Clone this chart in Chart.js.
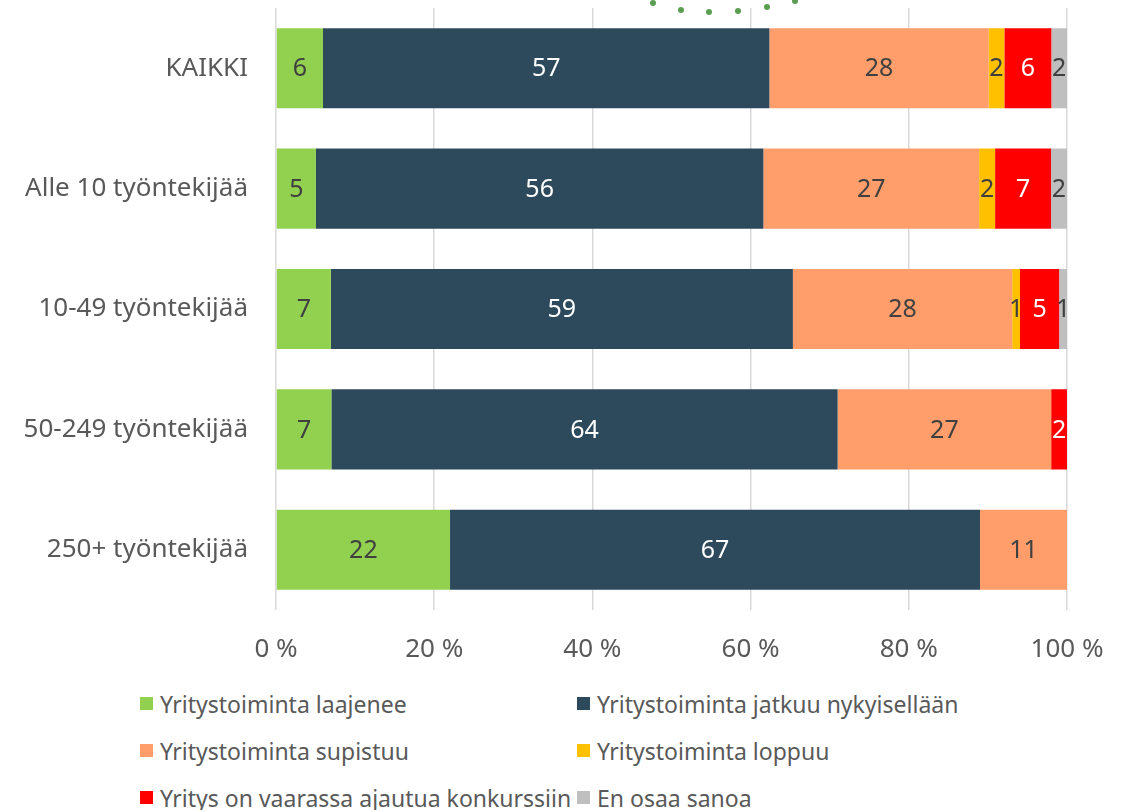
<!DOCTYPE html>
<html>
<head>
<meta charset="utf-8">
<script src="https://cdn.jsdelivr.net/npm/chart.js@4"></script>
<style>
  html, body { margin: 0; padding: 0; background: #fff; }
  body { width: 1132px; height: 810px; position: relative; overflow: hidden; font-family: "Noto Sans", sans-serif; }
  #chart-wrap { position: absolute; left: 0; top: 0; width: 1132px; height: 665px; }
  #legend { position: absolute; left: 140px; top: 680px; width: 980px; }
  .legend-row { display: flex; height: 47px; align-items: center; }
  .legend-item { display: flex; align-items: center; font-size: 23px; color: #595959; white-space: nowrap; }
  .legend-item:first-child { width: 437px; }
  .legend-box { width: 13px; height: 13px; margin-right: 7px; flex: none; }
  #deco { position: absolute; left: 0; top: 0; }
</style>
</head>
<body>
<div id="chart-wrap"><canvas id="business-chart"></canvas></div>
<svg id="deco" width="1132" height="20">
  <g fill="#5b9e52">
    <circle cx="653" cy="3" r="3"/><circle cx="681" cy="10" r="3"/><circle cx="709" cy="12" r="3"/>
    <circle cx="738" cy="11" r="3"/><circle cx="767" cy="7" r="3"/><circle cx="795" cy="1" r="3"/>
  </g>
</svg>
<div id="legend"></div>
<script>
const categories = ['KAIKKI', 'Alle 10 työntekijää', '10-49 työntekijää', '50-249 työntekijää', '250+ työntekijää'];

// shares in percent as printed on the bars
const laajenee   = [6, 5, 7, 7, 22];
const jatkuu     = [57, 56, 59, 64, 67];
const supistuu   = [28, 27, 28, 27, 11];
const loppuu     = [2, 2, 1, 0, 0];
const konkurssi  = [6, 7, 5, 2, 0];
const eiOsaa     = [2, 2, 1, 0, 0];

const xTicks = [0, 20, 40, 60, 80, 100];

const series = [
    { label: 'Yritystoiminta laajenee', values: laajenee, color: '#92d050', text: '#404040' },
    { label: 'Yritystoiminta jatkuu nykyisellään', values: jatkuu, color: '#2d4a5c', text: '#ffffff' },
    { label: 'Yritystoiminta supistuu', values: supistuu, color: '#ff9e6b', text: '#404040' },
    { label: 'Yritystoiminta loppuu', values: loppuu, color: '#ffc000', text: '#404040' },
    { label: 'Yritys on vaarassa ajautua konkurssiin', values: konkurssi, color: '#ff0000', text: '#ffffff' },
    { label: 'En osaa sanoa', values: eiOsaa, color: '#bfbfbf', text: '#404040' }
];

// 100 % stacked: each row is scaled to its own total
const rowTotals = categories.map((c, i) => series.reduce((s, d) => s + d.values[i], 0));

const FONT = '"Noto Sans", sans-serif';

const barLabels = {
    id: 'barLabels',
    afterDatasetsDraw(chart) {
        const ctx = chart.ctx;
        ctx.save();
        ctx.font = '25px ' + FONT;
        ctx.textAlign = 'center';
        ctx.textBaseline = 'middle';
        chart.data.datasets.forEach((ds, di) => {
            const meta = chart.getDatasetMeta(di);
            meta.data.forEach((bar, i) => {
                const v = series[di].values[i];
                if (!v) return;
                const p = bar.getCenterPoint();
                ctx.fillStyle = series[di].text;
                ctx.fillText(String(v), p.x, p.y + 1);
            });
        });
        ctx.restore();
    }
};

const noPad = (scale) => {
    scale.paddingTop = 0;
    scale.paddingBottom = 0;
    scale.paddingLeft = 0;
    scale.paddingRight = 0;
};

const ctx = document.getElementById('business-chart').getContext('2d');
const chart = new Chart(ctx, {
    type: 'bar',
    data: {
        labels: categories,
        datasets: series.map(s => ({
            label: s.label,
            data: s.values.map((v, i) => v / rowTotals[i] * 100),
            backgroundColor: s.color,
            borderWidth: 0,
            barPercentage: 0.665,
            categoryPercentage: 1
        }))
    },
    options: {
        indexAxis: 'y',
        responsive: true,
        maintainAspectRatio: false,
        animation: false,
        layout: { padding: { top: 8, right: 65, left: 0, bottom: 0 } },
        plugins: {
            legend: { display: false },
            tooltip: { enabled: false }
        },
        scales: {
            x: {
                stacked: true,
                min: 0,
                max: 100,
                afterBuildTicks: (scale) => { scale.ticks = xTicks.map(v => ({ value: v })); },
                afterFit: (scale) => { scale.height = 55; noPad(scale); },
                grid: { color: '#d9d9d9', lineWidth: 1.5, drawTicks: false },
                border: { display: false },
                ticks: {
                    padding: 24,
                    color: '#595959',
                    font: { family: FONT, size: 26 },
                    callback: (v) => v + ' %'
                }
            },
            y: {
                stacked: true,
                afterFit: (scale) => { scale.width = 276; noPad(scale); },
                grid: { display: false, drawTicks: false },
                border: { display: false },
                ticks: {
                    padding: 28,
                    color: '#595959',
                    font: { family: FONT, size: 26 }
                }
            }
        }
    },
    plugins: [barLabels]
});

// legend in two columns
const legendEl = document.getElementById('legend');
for (let r = 0; r < series.length; r += 2) {
    const row = document.createElement('div');
    row.className = 'legend-row';
    series.slice(r, r + 2).forEach(s => {
        const item = document.createElement('div');
        item.className = 'legend-item';
        const box = document.createElement('span');
        box.className = 'legend-box';
        box.style.background = s.color;
        item.appendChild(box);
        item.appendChild(document.createTextNode(s.label));
        row.appendChild(item);
    });
    legendEl.appendChild(row);
}
</script>
</body>
</html>
